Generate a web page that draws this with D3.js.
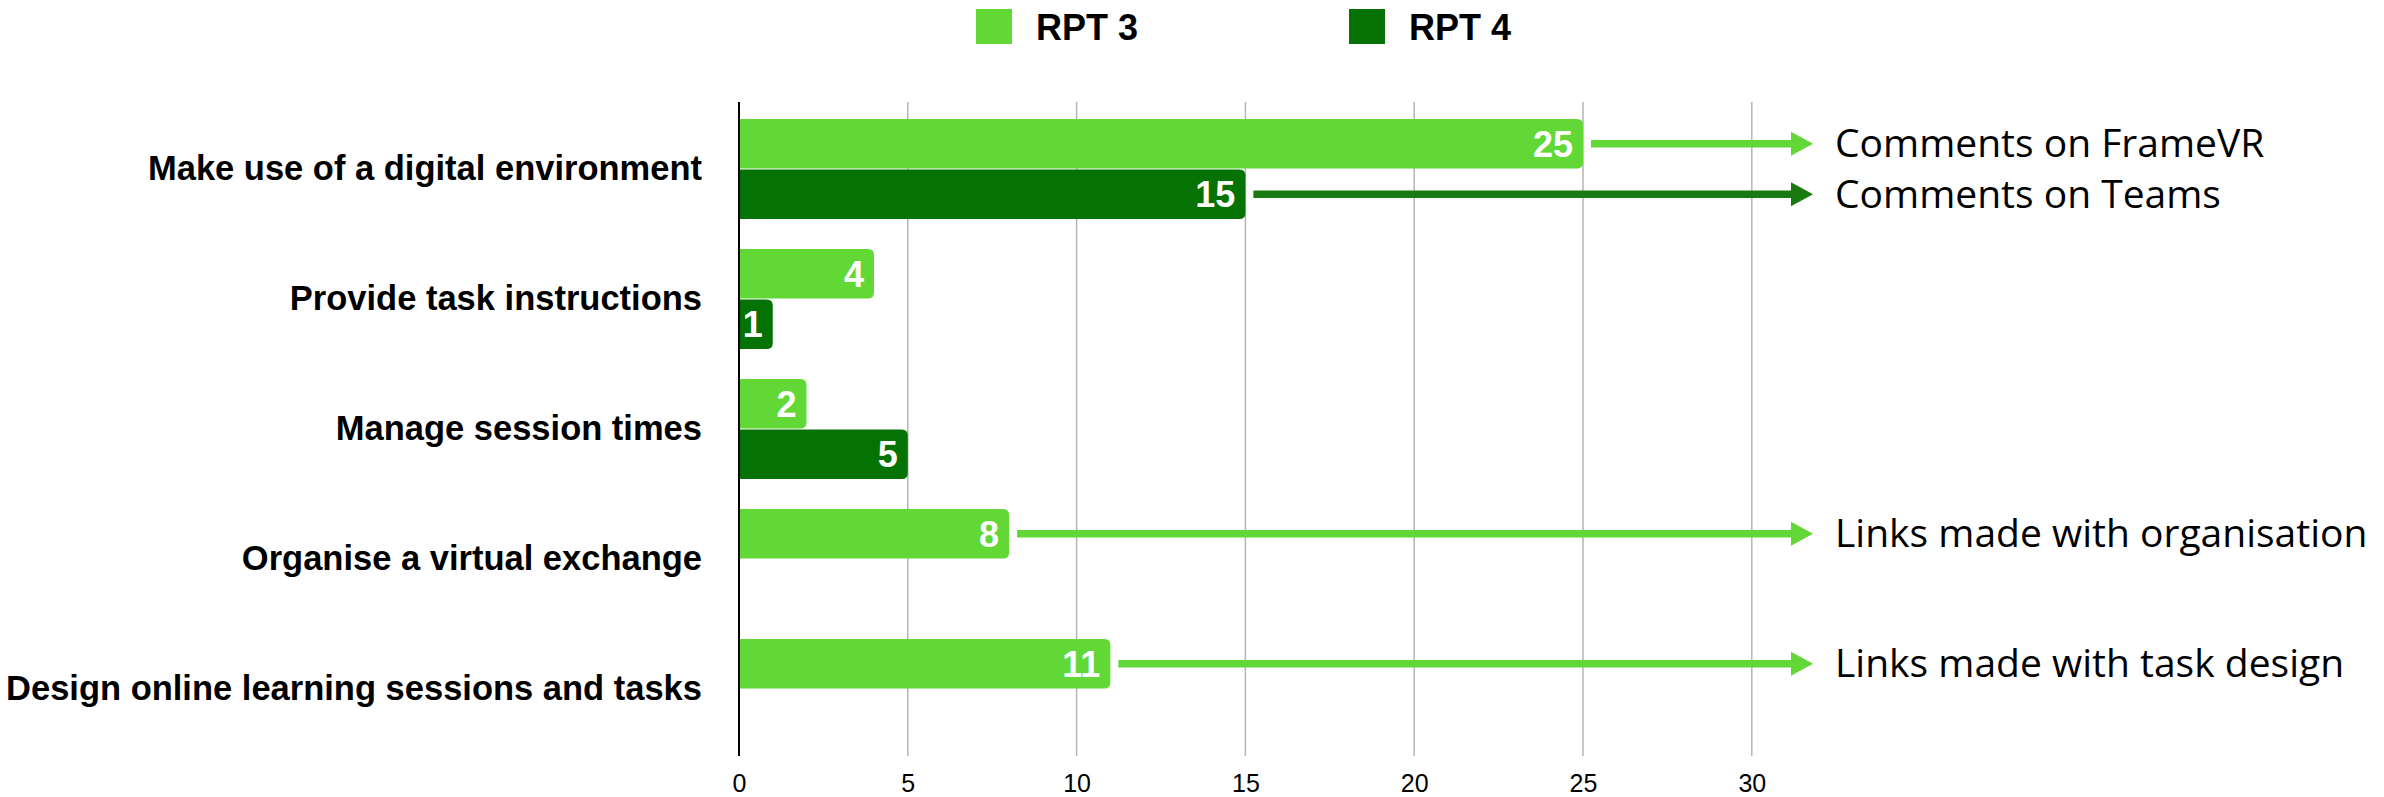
<!DOCTYPE html>
<html lang="en">
<head>
<meta charset="UTF-8">
<title>RPT 3 vs RPT 4</title>
<script src="https://d3js.org/d3.v7.min.js"></script>
<style>
  body { margin: 0; background: #fff; }
</style>
</head>
<body>
<div id="chart"></div>
<script>
// categories and series
const categories = [
  'Make use of a digital environment',
  'Provide task instructions',
  'Manage session times',
  'Organise a virtual exchange',
  'Design online learning sessions and tasks'
];
const seriesNames = ['RPT 3', 'RPT 4'];
const rpt3 = [25, 4, 2, 8, 11];
const rpt4 = [15, 1, 5, null, null];
const xTicks = [0, 5, 10, 15, 20, 25, 30];

// arrow notes: which bar they come out of, and the text
const noteCategory = [0, 0, 3, 4];
const noteSeries = ['RPT 3', 'RPT 4', 'RPT 3', 'RPT 3'];
const noteText = [
  'Comments on FrameVR',
  'Comments on Teams',
  'Links made with organisation',
  'Links made with task design'
];

const W = 2384, H = 797;
const colors = { 'RPT 3': '#61d836', 'RPT 4': '#047204' };
const arrowColors = { 'RPT 3': '#61d836', 'RPT 4': '#187a10' };

const svg = d3.select('#chart').append('svg')
  .attr('width', W)
  .attr('height', H);

const plotTop = 102, plotBottom = 756, axisX = 739;

const x = d3.scaleLinear()
  .domain([0, 30])
  .range([axisX, axisX + 30 * 33.76]);

const y = d3.scaleBand()
  .domain(categories)
  .range([plotTop, plotBottom])
  .paddingInner(0.23)
  .paddingOuter(0.13);

const ySub = d3.scaleBand()
  .domain(seriesNames)
  .range([0, y.bandwidth()])
  .paddingInner(0.02);

// gridlines
svg.append('g')
  .selectAll('line')
  .data(xTicks.filter(t => t > 0))
  .join('line')
  .attr('x1', d => x(d)).attr('x2', d => x(d))
  .attr('y1', plotTop).attr('y2', plotBottom)
  .attr('stroke', '#b5b5b5')
  .attr('stroke-width', 1.5);

// x tick labels
const xAxis = svg.append('g')
  .attr('transform', `translate(0,${plotBottom})`)
  .call(d3.axisBottom(x).tickValues(xTicks).tickSize(0).tickPadding(18));
xAxis.select('.domain').remove();
xAxis.selectAll('text')
  .attr('font-family', 'Liberation Sans, Arial, sans-serif')
  .attr('font-size', 25)
  .attr('fill', '#000');

// category labels
const yAxis = svg.append('g')
  .attr('transform', `translate(${axisX},0)`)
  .call(d3.axisLeft(y).tickSize(0).tickPadding(37));
yAxis.select('.domain').remove();
yAxis.selectAll('text')
  .attr('font-family', 'Liberation Sans, Arial, sans-serif')
  .attr('font-weight', 'bold')
  .attr('font-size', 34.5)
  .attr('fill', '#000');

// bars
const barData = [];
categories.forEach((c, i) => {
  [rpt3[i], rpt4[i]].forEach((v, j) => {
    if (v != null) barData.push({ cat: c, series: seriesNames[j], value: v });
  });
});

const r = 6;
function barPath(d) {
  const x0 = x(0), x1 = x(d.value);
  const y0 = y(d.cat) + ySub(d.series), h = ySub.bandwidth();
  return `M${x0},${y0}H${x1 - r}Q${x1},${y0} ${x1},${y0 + r}V${y0 + h - r}Q${x1},${y0 + h} ${x1 - r},${y0 + h}H${x0}Z`;
}

svg.append('g')
  .selectAll('path')
  .data(barData)
  .join('path')
  .attr('d', barPath)
  .attr('fill', d => colors[d.series]);

svg.append('g')
  .selectAll('text')
  .data(barData)
  .join('text')
  .attr('x', d => x(d.value) - 10)
  .attr('y', d => y(d.cat) + ySub(d.series) + ySub.bandwidth() / 2)
  .attr('dy', '0.36em')
  .attr('text-anchor', 'end')
  .attr('font-family', 'Liberation Sans, Arial, sans-serif')
  .attr('font-weight', 'bold')
  .attr('font-size', 36)
  .attr('fill', '#fff')
  .text(d => d.value);

// axis line at zero
svg.append('line')
  .attr('x1', x(0)).attr('x2', x(0))
  .attr('y1', plotTop).attr('y2', plotBottom)
  .attr('stroke', '#000')
  .attr('stroke-width', 2);

// arrows with notes
const tipX = 1813, headLen = 22, headHalf = 12, textX = 1835;
noteText.forEach((t, i) => {
  const cat = categories[noteCategory[i]];
  const s = noteSeries[i];
  const v = s === 'RPT 3' ? rpt3[noteCategory[i]] : rpt4[noteCategory[i]];
  const cy = y(cat) + ySub(s) + ySub.bandwidth() / 2;
  const g = svg.append('g');
  g.append('line')
    .attr('x1', x(v) + 8).attr('x2', tipX - headLen + 1)
    .attr('y1', cy).attr('y2', cy)
    .attr('stroke', arrowColors[s])
    .attr('stroke-width', 7.5);
  g.append('path')
    .attr('d', `M${tipX - headLen},${cy - headHalf}L${tipX},${cy}L${tipX - headLen},${cy + headHalf}Z`)
    .attr('fill', arrowColors[s]);
  g.append('text')
    .attr('x', textX)
    .attr('y', cy)
    .attr('dy', '0.35em')
    .attr('font-family', 'Open Sans, Noto Sans, sans-serif')
    .attr('font-size', 39)
    .attr('fill', '#000')
    .text(t);
});

// legend
const legendX = [976, 1349];
const legend = svg.append('g')
  .selectAll('g')
  .data(seriesNames)
  .join('g')
  .attr('transform', (d, i) => `translate(${legendX[i]},9)`);
legend.append('rect')
  .attr('width', 36).attr('height', 35)
  .attr('fill', d => colors[d]);
legend.append('text')
  .attr('x', 60)
  .attr('y', 18)
  .attr('dy', '0.36em')
  .attr('font-family', 'Liberation Sans, Arial, sans-serif')
  .attr('font-weight', 'bold')
  .attr('font-size', 36)
  .attr('fill', '#000')
  .text(d => d);
</script>
</body>
</html>
